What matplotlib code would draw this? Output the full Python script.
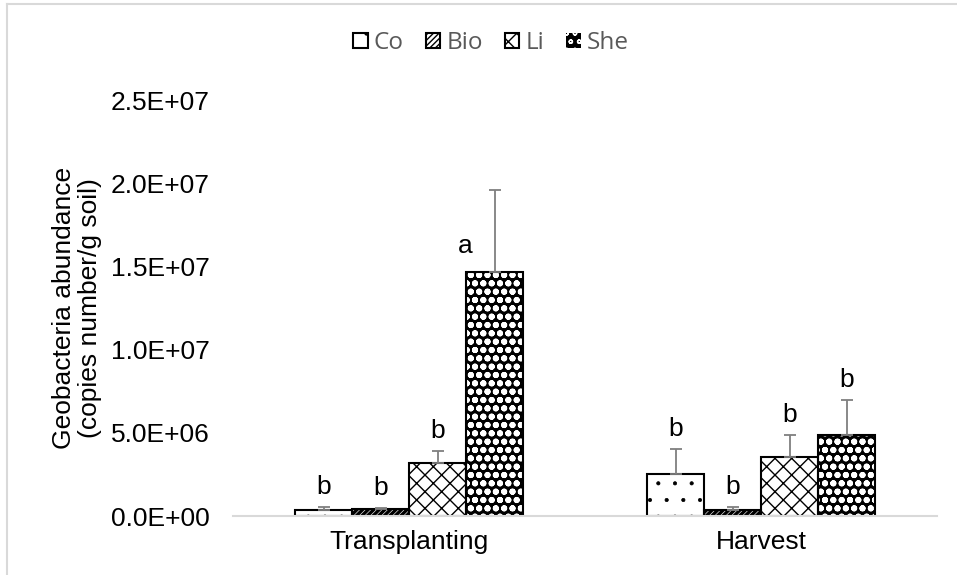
import numpy as np
import matplotlib
matplotlib.use("Agg")
from matplotlib import pyplot as plt
from matplotlib.patches import Patch
from matplotlib.lines import Line2D

# datos
etapas = ["Transplanting", "Harvest"]
tratamientos = ["Co", "Bio", "Li", "She"]
media = {
    "Co":  [0.36e6, 2.51e6],
    "Bio": [0.43e6, 0.34e6],
    "Li":  [3.21e6, 3.55e6],
    "She": [14.66e6, 4.88e6],
}
error = {
    "Co":  [0.18e6, 1.51e6],
    "Bio": [0.07e6, 0.18e6],
    "Li":  [0.69e6, 1.33e6],
    "She": [4.94e6, 2.09e6],
}
letras = {
    "Co":  ["b", "b"],
    "Bio": ["b", "b"],
    "Li":  ["b", "b"],
    "She": ["a", "b"],
}

plt.rcParams['font.family'] = ['Liberation Sans', 'DejaVu Sans']
plt.rcParams['hatch.linewidth'] = 1.0

fig = plt.figure(figsize=(9.57, 5.75), dpi=100)
ax = fig.add_axes([233/957, 1-516/575, 704/957, 416/575])

x = np.arange(len(etapas))
ancho = 57/352
tramas = {"Co": ".", "Bio": "//////", "Li": "xx", "She": "oo"}
grosor_trama = {"Co": 0.5, "Bio": 2.4, "Li": 1.0, "She": 2.0}
# She: fondo negro con trama blanca
fondo = {"Co": "white", "Bio": "white", "Li": "white", "She": "black"}
color_trama = {"Co": "black", "Bio": "black", "Li": "black", "She": "white"}
letra = 19

def poner_grosor(barras, g):
    for b in barras:
        if hasattr(b, "set_hatch_linewidth"):
            b.set_hatch_linewidth(g)

for i, tr in enumerate(tratamientos):
    pos = x + (i - 1.5) * ancho
    with plt.rc_context({"hatch.linewidth": grosor_trama[tr]}):
        b = ax.bar(pos, media[tr], ancho, color=fondo[tr], edgecolor=color_trama[tr],
                   hatch=tramas[tr], linewidth=0, zorder=2)
        poner_grosor(b, grosor_trama[tr])
    ax.bar(pos, media[tr], ancho, fill=False, edgecolor="black", linewidth=1.5, zorder=3)
    ax.errorbar(pos, media[tr], yerr=[np.zeros(len(etapas)), error[tr]],
                fmt="none", ecolor="#7f7f7f", elinewidth=1.3, capsize=4.3,
                capthick=1.3, zorder=4)
    for j in range(len(etapas)):
        tope = media[tr][j] + error[tr][j]
        if letras[tr][j] == "a":
            ax.annotate("a", (pos[j], media[tr][j]), xytext=(-29, 26),
                        textcoords="offset pixels", ha="center", va="center",
                        fontsize=letra)
        else:
            ax.annotate(letras[tr][j], (pos[j], tope), xytext=(0, 20),
                        textcoords="offset pixels", ha="center", va="center",
                        fontsize=letra)

ax.set_xlim(-0.5, 1.5)
ax.set_ylim(0, 2.5e7)
ax.set_yticks(np.arange(0, 2.51e7, 5e6))
ax.set_yticklabels(["%.1E" % v for v in np.arange(0, 2.51e7, 5e6)])
ax.set_xticks(x)
ax.set_xticklabels(etapas)
ax.tick_params(axis="both", length=0, labelsize=letra, colors="black")
ax.tick_params(axis="x", pad=10)
ax.tick_params(axis="y", pad=17)
for lado in ["top", "right", "left"]:
    ax.spines[lado].set_visible(False)
ax.spines["bottom"].set_color("#d9d9d9")
ax.spines["bottom"].set_linewidth(1.5)
ax.spines["bottom"].set_zorder(5)

ax.set_ylabel("Geobacteria abundance\n(copies number/g soil)", fontsize=letra,
              linespacing=1.1, labelpad=6)

manijas = []
for tr in tratamientos:
    with plt.rc_context({"hatch.linewidth": grosor_trama[tr]}):
        p = Patch(facecolor=fondo[tr], edgecolor=color_trama[tr], hatch=tramas[tr],
                  linewidth=0 if tr == "She" else 1.5)
        poner_grosor([p], grosor_trama[tr])
    manijas.append(p)
ley = fig.legend(manijas, tratamientos, loc="center", bbox_to_anchor=(491/957, 1-43/575),
                 ncol=4, frameon=False, handlelength=0.6, handleheight=0.6,
                 handletextpad=0.25, columnspacing=0.9,
                 prop={"family": "Open Sans", "size": 17.5})
for t in ley.get_texts():
    t.set_color("#595959")

# borde del grafico
fig.add_artist(Line2D([7/957, 7/957], [0, 1-4/575], color="#d9d9d9", linewidth=1.5))
fig.add_artist(Line2D([7/957, 1], [1-4/575, 1-4/575], color="#d9d9d9", linewidth=1.5))

fig.savefig("out.png", dpi=100)
